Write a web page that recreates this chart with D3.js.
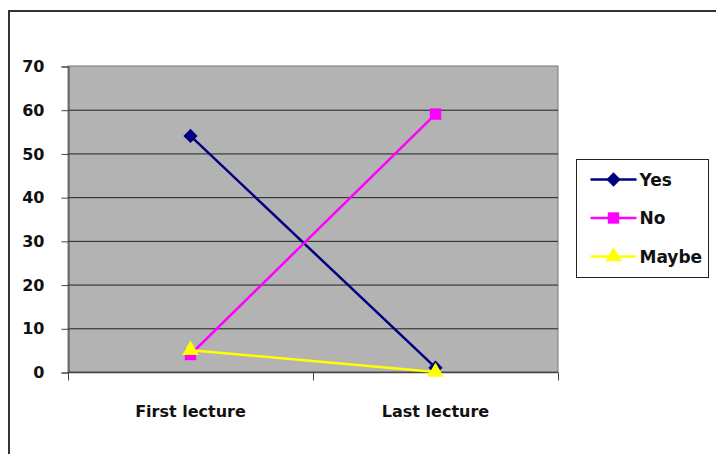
<!DOCTYPE html>
<html>
<head>
<meta charset="utf-8">
<script src="https://cdn.jsdelivr.net/npm/d3@7"></script>
<style>
  body { margin: 0; background: #fff; }
  text { font-family: "DejaVu Sans", sans-serif; }
</style>
</head>
<body>
<svg id="chart" width="716" height="454"></svg>
<script>
/* DATA */
const categories = ["First lecture", "Last lecture"];
const seriesNames = ["Yes", "No", "Maybe"];
const yesValues = [54, 1];
const noValues = [4, 59];
const maybeValues = [5, 0];
const yTicks = [0, 10, 20, 30, 40, 50, 60, 70];

const series = [
  { name: seriesNames[0], values: yesValues, color: "#000080", shape: "diamond" },
  { name: seriesNames[1], values: noValues, color: "#ff00ff", shape: "square" },
  { name: seriesNames[2], values: maybeValues, color: "#ffff00", shape: "triangle" }
];

const plot = { left: 68, right: 558, top: 66, bottom: 372 };

const svg = d3.select("#chart");

// outer frame
svg.append("rect")
  .attr("x", 9).attr("y", 11)
  .attr("width", 720).attr("height", 460)
  .attr("fill", "none")
  .attr("stroke", "#333")
  .attr("stroke-width", 2);

// scales
const xScale = d3.scaleBand()
  .domain(categories)
  .range([plot.left, plot.right]);

const yScale = d3.scaleLinear()
  .domain([0, 70])
  .range([plot.bottom, plot.top]);

// plot background
svg.append("rect")
  .attr("x", plot.left).attr("y", plot.top)
  .attr("width", plot.right - plot.left)
  .attr("height", plot.bottom - plot.top)
  .attr("fill", "#b3b3b3")
  .attr("stroke", "#777")
  .attr("stroke-width", 1);

// gridlines
svg.append("g")
  .selectAll("line")
  .data(yTicks.filter(d => d > 0 && d < 70))
  .join("line")
  .attr("x1", plot.left).attr("x2", plot.right)
  .attr("y1", d => yScale(d) + 0.5).attr("y2", d => yScale(d) + 0.5)
  .attr("stroke", "#222")
  .attr("stroke-width", 1);

// y axis
const yAxis = d3.axisLeft(yScale)
  .tickValues(yTicks)
  .tickSize(7)
  .tickPadding(17);

svg.append("g")
  .attr("transform", `translate(${plot.left + 0.5}, 0.5)`)
  .call(yAxis)
  .call(g => g.select(".domain").attr("stroke", "#444"))
  .call(g => g.selectAll(".tick line").attr("stroke", "#444"))
  .call(g => g.selectAll("text")
    .attr("font-size", 16)
    .attr("font-weight", "bold")
    .attr("fill", "#111"));

// x axis
const xAxisGroup = svg.append("g")
  .attr("transform", `translate(0, ${plot.bottom + 0.5})`);

xAxisGroup.append("line")
  .attr("x1", plot.left).attr("x2", plot.right)
  .attr("stroke", "#444").attr("stroke-width", 1.5);

// tick marks between categories
const boundaries = [plot.left, xScale(categories[1]), plot.right];
xAxisGroup.selectAll(".xtick")
  .data(boundaries)
  .join("line")
  .attr("class", "xtick")
  .attr("x1", d => d + 0.5).attr("x2", d => d + 0.5)
  .attr("y1", 0).attr("y2", 8)
  .attr("stroke", "#444");

xAxisGroup.selectAll(".xlabel")
  .data(categories)
  .join("text")
  .attr("class", "xlabel")
  .attr("x", d => xScale(d) + xScale.bandwidth() / 2)
  .attr("y", 44)
  .attr("text-anchor", "middle")
  .attr("font-size", 16)
  .attr("font-weight", "bold")
  .attr("fill", "#111")
  .text(d => d);

// lines
const lineGen = d3.line()
  .x((d, i) => xScale(categories[i]) + xScale.bandwidth() / 2)
  .y(d => yScale(d));

const symbolFor = {
  diamond: d3.symbol().type(d3.symbolDiamond2).size(130),
  square: d3.symbol().type(d3.symbolSquare).size(130),
  triangle: d3.symbol().type(d3.symbolTriangle).size(120)
};

series.forEach(s => {
  svg.append("path")
    .datum(s.values)
    .attr("fill", "none")
    .attr("stroke", s.color)
    .attr("stroke-width", 2.5)
    .attr("d", lineGen);

  svg.append("g")
    .selectAll("path")
    .data(s.values)
    .join("path")
    .attr("transform", (d, i) =>
      `translate(${xScale(categories[i]) + xScale.bandwidth() / 2}, ${yScale(d)})`)
    .attr("d", symbolFor[s.shape]())
    .attr("fill", s.color);
});

// legend
const legend = svg.append("g")
  .attr("transform", "translate(576.5, 159.5)");

legend.append("rect")
  .attr("width", 132).attr("height", 118)
  .attr("fill", "#fff")
  .attr("stroke", "#222");

const legendItems = legend.selectAll(".item")
  .data(series)
  .join("g")
  .attr("class", "item")
  .attr("transform", (d, i) => `translate(0, ${20 + i * 38.5})`);

legendItems.append("line")
  .attr("x1", 14).attr("x2", 60)
  .attr("stroke", d => d.color)
  .attr("stroke-width", 2.5);

legendItems.append("path")
  .attr("transform", "translate(37, 0)")
  .attr("d", d => symbolFor[d.shape]())
  .attr("fill", d => d.color);

legendItems.append("text")
  .attr("x", 63)
  .attr("y", 6)
  .attr("font-size", 17)
  .attr("font-weight", "bold")
  .attr("fill", "#111")
  .text(d => d.name);
</script>
</body>
</html>
